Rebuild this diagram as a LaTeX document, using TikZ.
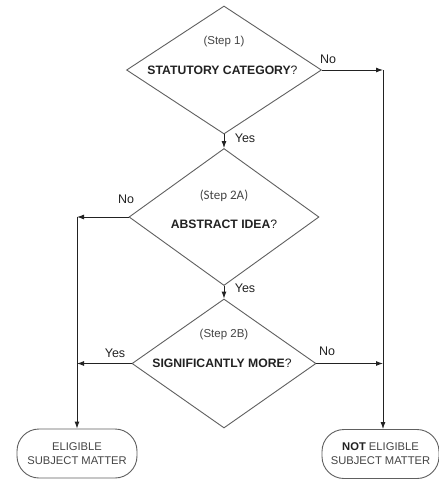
\documentclass[tikz,border=0pt]{standalone}
\usepackage{fontspec}
\setmainfont{Liberation Sans}
\newfontfamily\stepfont{Carlito}
\usetikzlibrary{shapes.geometric,arrows.meta}
\definecolor{edge}{HTML}{606060}
\definecolor{ink}{HTML}{222222}
\definecolor{soft}{HTML}{444444}
\tikzset{
  decision/.style={diamond, draw=edge, line width=0.9pt, inner sep=0pt, minimum width=#1},
  terminal/.style={draw=edge, line width=0.9pt, rounded corners=22pt, minimum width=120pt, minimum height=49pt, inner sep=0pt},
  flow/.style={draw=ink, line width=0.9pt, -{Latex[length=7pt,width=5pt]}},
  steptxt/.style={font=\fontsize{11.5}{13}\selectfont, text=soft, inner sep=0pt},
  question/.style={font=\fontsize{12.2}{14}\selectfont\bfseries, text=ink, inner sep=0pt},
  answer/.style={font=\fontsize{12.5}{14}\selectfont, text=ink, inner sep=0pt},
  endtxt/.style={font=\fontsize{11.2}{14}\selectfont, text=soft, align=center, inner sep=0pt}
}
\begin{document}
\begin{tikzpicture}[x=1pt,y=-1pt]
\useasboundingbox (0,0) rectangle (439,480);
\fill[white] (0,0) rectangle (439,480);

% decision diamonds
\node[decision=195pt, minimum height=128pt] (d1) at (224,70) {};
\node[decision=190pt, minimum height=137pt] (d2) at (224,217) {};
\node[decision=184pt, minimum height=129pt] (d3) at (224,363.5) {};

% texts inside the diamonds
\node[steptxt] (s1) at (224,42) {(Step 1)};
\node[question] (q1) at (222.5,70) {STATUTORY CATEGORY\textmd{?}};
\node[steptxt] (s2) at (224,196) {\stepfont\fontsize{13}{15}\selectfont (Step 2A)};
\node[question] (q2) at (224,224) {ABSTRACT IDEA\textmd{?}};
\node[steptxt] (s3) at (224,335) {(Step 2B)};
\node[question] (q3) at (222,363) {SIGNIFICANTLY MORE\textmd{?}};

% outcome boxes
\node[terminal, minimum width=120pt] (el) at (77,453.5) {};
\node[terminal, minimum width=117pt] (ne) at (380.5,454) {};
\node[endtxt] (elt) at (77,454) {ELIGIBLE\\SUBJECT MATTER};
\node[endtxt] (net) at (380.5,454) {\textbf{\color{ink}NOT} ELIGIBLE\\SUBJECT MATTER};

% turning points of the side branches
\coordinate (rc) at (383,70);
\coordinate (lc) at (77,217);

% connectors
\draw[flow] (d1.east) -- (rc);
\draw[flow] (rc) -- (rc |- ne.north);
\draw[flow] (d1.south) -- (d2.north);
\draw[flow] (d2.west) -- (lc);
\draw[flow] (lc) -- (el.north);
\draw[flow] (d2.south) -- (d3.north);
\draw[flow] (d3.west) -- (d3.west -| lc);
\draw[flow] (d3.east) -- (d3.east -| rc);

% branch labels
\node[answer] (n1) at (328,59) {No};
\node[answer] (y1) at (245,138) {Yes};
\node[answer] (n2) at (126,199) {No};
\node[answer] (y2) at (245,288) {Yes};
\node[answer] (y3) at (115,353) {Yes};
\node[answer] (n3) at (327,351) {No};
\end{tikzpicture}
\end{document}
